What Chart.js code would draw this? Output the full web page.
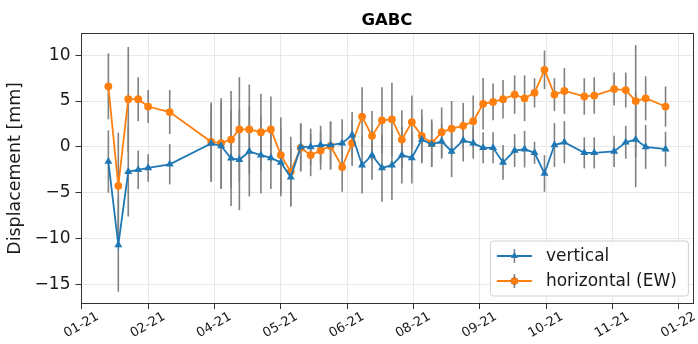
<!DOCTYPE html>
<html>
<head>
<meta charset="utf-8">
<script src="https://cdn.jsdelivr.net/npm/chart.js@4.4.0/dist/chart.umd.min.js"></script>
<style>
html,body{margin:0;padding:0;background:#fff;}
#wrap{width:698px;height:344px;position:relative;}
</style>
</head>
<body>
<div id="wrap"><canvas id="c" width="698" height="344"></canvas></div>
<script>
// ---- data ----
const dates = ['2021-01-29','2021-02-04','2021-02-10','2021-02-16','2021-02-22','2021-03-07','2021-04-01','2021-04-07','2021-04-13','2021-04-18','2021-04-24','2021-05-01','2021-05-07','2021-05-13','2021-05-19','2021-05-25','2021-05-31','2021-06-06','2021-06-12','2021-06-19','2021-06-25','2021-07-01','2021-07-07','2021-07-13','2021-07-19','2021-07-25','2021-07-31','2021-08-06','2021-08-12','2021-08-18','2021-08-24','2021-08-31','2021-09-06','2021-09-12','2021-09-18','2021-09-24','2021-10-01','2021-10-07','2021-10-13','2021-10-19','2021-10-25','2021-10-31','2021-11-12','2021-11-18','2021-11-30','2021-12-07','2021-12-13','2021-12-19','2021-12-31'];
const verticalValues = [-1.6,-10.7,-2.7,-2.5,-2.3,-1.9,0.37,0.1,-1.25,-1.4,-0.5,-0.9,-1.2,-1.7,-3.3,0.0,0.0,0.2,0.2,0.4,1.3,-2.0,-0.9,-2.3,-2.0,-0.9,-1.2,0.8,0.26,0.6,-0.5,0.7,0.4,-0.1,-0.1,-1.7,-0.4,-0.25,-0.65,-2.9,0.2,0.5,-0.65,-0.65,-0.5,0.5,0.8,0.0,-0.25];
const verticalErrors = [3.4,5.1,4.9,2.1,1.5,2.2,4.2,4.7,5.2,5.5,4.9,4.2,3.4,3.7,3.2,2.6,2.0,2.1,2.6,2.6,2.5,3.1,2.7,3.7,3.8,3.1,2.8,2.6,2.4,1.9,2.8,2.3,1.7,1.7,1.7,1.9,1.8,2.0,1.2,2.0,2.4,2.3,1.7,1.7,1.7,1.8,5.2,2.4,1.9];
const horizontalValues = [6.6,-4.25,5.2,5.2,4.4,3.8,0.55,0.4,0.8,1.9,1.9,1.6,1.9,-0.9,-2.7,-0.1,-0.9,-0.4,0.1,-2.2,0.4,3.3,1.2,2.9,3.0,0.8,2.7,1.2,0.4,1.6,2.0,2.3,2.8,4.7,4.9,5.2,5.7,5.3,5.9,8.4,5.7,6.1,5.5,5.6,6.3,6.2,5.0,5.3,4.4];
const horizontalErrors = [3.6,5.8,5.7,2.4,1.8,2.4,4.3,4.9,5.3,5.7,4.9,4.2,3.6,4.1,3.8,2.6,2.3,2.1,2.6,2.7,2.5,3.2,2.7,3.6,4.0,3.2,2.9,2.9,2.6,2.7,3.0,2.5,2.8,2.8,2.0,2.1,2.1,2.5,1.6,2.1,1.8,2.5,2.0,2.0,1.8,1.9,6.1,2.4,2.2];
const xTickDates = ['2021-01-13','2021-02-22','2021-04-03','2021-05-13','2021-06-22','2021-08-01','2021-09-10','2021-10-20','2021-11-29','2022-01-08'];
const xTickLabels = ['01-21','02-21','04-21','05-21','06-21','08-21','09-21','10-21','11-21','01-22'];
const yTicks = [-15,-10,-5,0,5,10];
const seriesNames = ['vertical','horizontal (EW)'];
const titleText = 'GABC';
const yAxisTitle = 'Displacement [mm]';

// ---- helpers ----
const toDay = s => { const [y,m,d] = s.split('-').map(Number); return Date.UTC(y,m-1,d)/86400000; };
const dayNumbers = dates.map(toDay);
const tickDays = xTickDates.map(toDay);
const span = dayNumbers[dayNumbers.length-1] - dayNumbers[0];
const xMin = dayNumbers[0] - 0.05*span, xMax = dayNumbers[dayNumbers.length-1] + 0.05*span;
const allLo = Math.min(...verticalValues.map((v,i)=>v-verticalErrors[i]), ...horizontalValues.map((v,i)=>v-horizontalErrors[i]));
const allHi = Math.max(...verticalValues.map((v,i)=>v+verticalErrors[i]), ...horizontalValues.map((v,i)=>v+horizontalErrors[i]));
const yMin = allLo - 0.05*(allHi-allLo), yMax = allHi + 0.05*(allHi-allLo);

const BLUE = '#1f77b4', ORANGE = '#ff7f0e', ERR = '#808080';
const FONT = "'DejaVu Sans', sans-serif";

const errorBars = {
  id: 'errorBars',
  beforeDatasetsDraw(chart) {
    const {ctx, scales:{x, y}} = chart;
    ctx.save();
    ctx.strokeStyle = ERR; ctx.lineWidth = 1.6;
    [[verticalValues, verticalErrors],[horizontalValues, horizontalErrors]].forEach(([vals, errs]) => {
      vals.forEach((v,i) => {
        const px = x.getPixelForValue(dayNumbers[i]);
        ctx.beginPath();
        ctx.moveTo(px, y.getPixelForValue(v - errs[i]));
        ctx.lineTo(px, y.getPixelForValue(v + errs[i]));
        ctx.stroke();
      });
    });
    ctx.restore();
  }
};

const frameAndLegend = {
  id: 'frameAndLegend',
  afterDraw(chart) {
    const {ctx, chartArea:a} = chart;
    ctx.save();
    ctx.strokeStyle = '#333'; ctx.lineWidth = 1;
    ctx.strokeRect(Math.round(a.left)+0.5, Math.round(a.top)+0.5, Math.round(a.right-a.left)-1, Math.round(a.bottom-a.top)-1);
    // legend box (lower right)
    const bw = 198, bh = 55;
    const bx = a.right - 5 - bw, by = a.bottom - 8 - bh;
    const r = 3;
    ctx.beginPath();
    ctx.moveTo(bx+r, by); ctx.lineTo(bx+bw-r, by); ctx.quadraticCurveTo(bx+bw, by, bx+bw, by+r);
    ctx.lineTo(bx+bw, by+bh-r); ctx.quadraticCurveTo(bx+bw, by+bh, bx+bw-r, by+bh);
    ctx.lineTo(bx+r, by+bh); ctx.quadraticCurveTo(bx, by+bh, bx, by+bh-r);
    ctx.lineTo(bx, by+r); ctx.quadraticCurveTo(bx, by, bx+r, by);
    ctx.closePath();
    ctx.fillStyle = 'rgba(255,255,255,0.85)'; ctx.fill();
    ctx.strokeStyle = '#d0d0d0'; ctx.stroke();
    const rows = [[BLUE,'triangle',seriesNames[0]],[ORANGE,'circle',seriesNames[1]]];
    rows.forEach(([col, shape, label], k) => {
      const cy = by + 15 + k*25;
      const lx0 = bx + 6.5, lx1 = bx + 41.5, mx = (lx0+lx1)/2;
      ctx.strokeStyle = ERR; ctx.lineWidth = 1.6;
      ctx.beginPath(); ctx.moveTo(mx, cy-7); ctx.lineTo(mx, cy+7); ctx.stroke();
      ctx.strokeStyle = col; ctx.lineWidth = 1.8;
      ctx.beginPath(); ctx.moveTo(lx0, cy); ctx.lineTo(lx1, cy); ctx.stroke();
      Chart.helpers.drawPoint(ctx, {pointStyle: shape, radius: shape==='triangle'?4.2:3.6, borderWidth: 0}, mx, cy);
      ctx.fillStyle = col; ctx.fill();
      ctx.fillStyle = '#1a1a1a';
      ctx.font = "17px " + FONT;
      ctx.textBaseline = 'middle'; ctx.textAlign = 'left';
      ctx.fillText(label, bx + 55.5, cy + 1);
    });
    ctx.restore();
  }
};

new Chart(document.getElementById('c'), {
  type: 'line',
  data: {
    datasets: [
      { label: seriesNames[0], data: dayNumbers.map((d,i)=>({x:d, y:verticalValues[i]})),
        borderColor: BLUE, backgroundColor: BLUE, borderWidth: 1.8, pointStyle: 'triangle',
        pointRadius: 4.6, pointBorderWidth: 0, pointBackgroundColor: BLUE, tension: 0 },
      { label: seriesNames[1], data: dayNumbers.map((d,i)=>({x:d, y:horizontalValues[i]})),
        borderColor: ORANGE, backgroundColor: ORANGE, borderWidth: 1.8, pointStyle: 'circle',
        pointRadius: 3.9, pointBorderWidth: 0, pointBackgroundColor: ORANGE, tension: 0 }
    ]
  },
  options: {
    responsive: false,
    animation: false,
    layout: { padding: { left: 0, right: 3, top: 0, bottom: 0 } },
    plugins: {
      legend: { display: false },
      tooltip: { enabled: false },
      title: { display: true, text: titleText, fullSize: false, color: '#000',
        font: { family: FONT, size: 16.5, weight: 'bold' }, padding: { top: 11, bottom: 2 } }
    },
    scales: {
      x: {
        type: 'linear', min: xMin, max: xMax,
        afterBuildTicks: s => { s.ticks = tickDays.map(v => ({value: v})); },
        afterFit: s => { s.height = 40; },
        ticks: { callback: (v, i) => xTickLabels[i], minRotation: 30, maxRotation: 30, autoSkip: false,
          labelOffset: 16, padding: 0, color: '#1a1a1a', font: { family: FONT, size: 13 } },
        grid: { color: '#e8e8e8', lineWidth: 1, tickColor: '#333', tickLength: 5 },
        border: { display: false }
      },
      y: {
        type: 'linear', min: yMin, max: yMax,
        afterBuildTicks: s => { s.ticks = yTicks.map(v => ({value: v})); },
        afterFit: s => { s.width = 80.5; },
        ticks: { callback: v => (v < 0 ? '\u2212' + Math.abs(v) : String(v)), padding: 5, color: '#1a1a1a',
          font: { family: FONT, size: 17 } },
        grid: { color: '#e8e8e8', lineWidth: 1, tickColor: '#333', tickLength: 5 },
        border: { display: false },
        title: { display: true, text: yAxisTitle, color: '#1a1a1a', font: { family: FONT, size: 17.4 },
          padding: { top: 5, bottom: 0 } }
      }
    }
  },
  plugins: [errorBars, frameAndLegend]
});
</script>
</body>
</html>
